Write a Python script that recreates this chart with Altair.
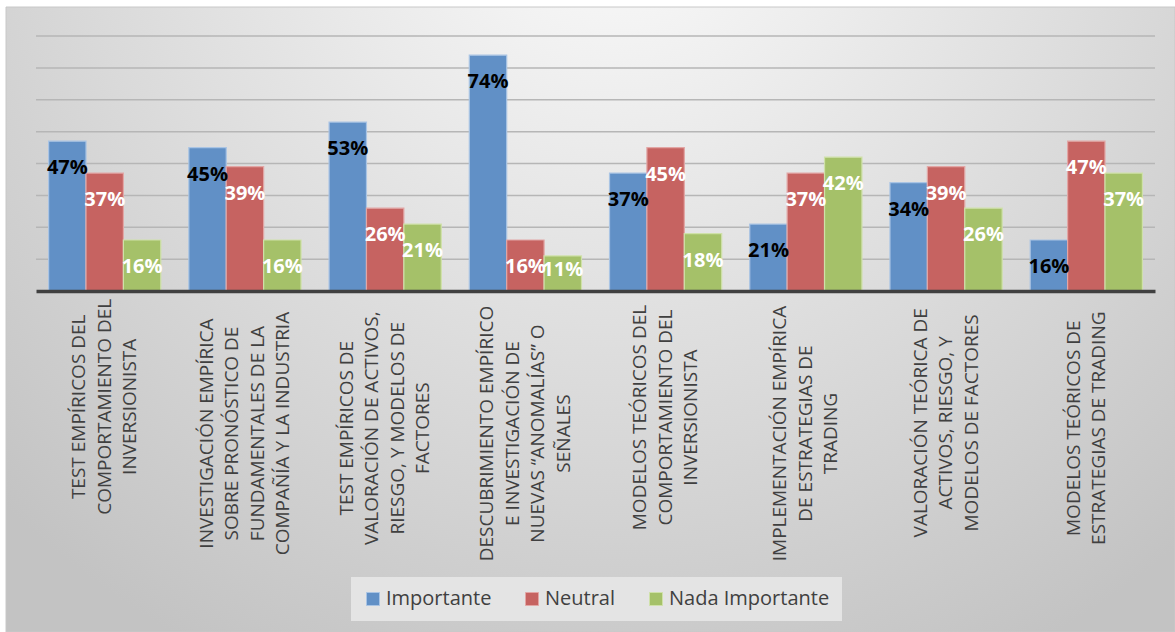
import altair as alt
import pandas as pd

categorias = [
    "TEST EMPÍRICOS DEL|COMPORTAMIENTO DEL|INVERSIONISTA",
    "INVESTIGACIÓN EMPÍRICA|SOBRE PRONÓSTICO DE|FUNDAMENTALES DE LA|COMPAÑÍA Y LA INDUSTRIA",
    "TEST EMPÍRICOS DE|VALORACIÓN DE ACTIVOS,|RIESGO, Y MODELOS DE|FACTORES",
    "DESCUBRIMIENTO EMPÍRICO|E INVESTIGACIÓN DE|NUEVAS “ANOMALÍAS” O|SEÑALES",
    "MODELOS TEÓRICOS DEL|COMPORTAMIENTO DEL|INVERSIONISTA",
    "IMPLEMENTACIÓN EMPÍRICA|DE  ESTRATEGIAS DE|TRADING",
    "VALORACIÓN TEÓRICA DE|ACTIVOS,  RIESGO, Y|MODELOS DE FACTORES",
    "MODELOS TEÓRICOS DE|ESTRATEGIAS DE TRADING",
]
series = ["Importante", "Neutral", "Nada Importante"]
importante = [0.47, 0.45, 0.53, 0.74, 0.37, 0.21, 0.34, 0.16]
neutral = [0.37, 0.39, 0.26, 0.16, 0.45, 0.37, 0.39, 0.47]
nada_importante = [0.16, 0.16, 0.21, 0.11, 0.18, 0.42, 0.26, 0.37]
colores = ["#6190c6", "#c66361", "#a5c169"]
bordes = ["#a9c4e4", "#e2a6a5", "#cfe1a9"]
grid_vals = [0.1, 0.2, 0.3, 0.4, 0.5, 0.6, 0.7, 0.8]

rows = []
for i, c in enumerate(categorias):
    for s, vals in zip(series, [importante, neutral, nada_importante]):
        rows.append({"categoria": c, "serie": s, "valor": vals[i]})
df = pd.DataFrame(rows)
df_grid = pd.DataFrame({"g": grid_vals})

W, H = 1119, 255
LH = 25.5

# label blocks are top-aligned under the axis, lines centred within the block
lines_expr = "split(datum.value, '|')"
maxlen_expr = (
    f"max(length({lines_expr}[0]), length({lines_expr}[1] || ''), "
    f"length({lines_expr}[2] || ''), length({lines_expr}[3] || ''))"
)

x_enc = alt.X(
    "categoria:N", sort=categorias,
    scale=alt.Scale(paddingInner=0.2, paddingOuter=0.09),
    axis=alt.Axis(
        title=None, labelExpr="split(datum.label, '|')", labelAngle=270,
        labelAlign="center", labelBaseline="middle",
        labelPadding={"condition": {"test": "false", "value": 127}, "expr": f"19 + 5.35 * {maxlen_expr}"},
        labelOffset={
            "condition": [
                {"test": "length(split(datum.value, '|')) == 4", "value": -1.5 * LH},
                {"test": "length(split(datum.value, '|')) == 2", "value": -0.5 * LH},
            ],
            "value": -1.0 * LH,
        },
        ticks=False, tickSize=0, domainColor="#404040", domainWidth=3.5,
        labelFont="Open Sans", labelFontSize=19, labelColor="#404040",
        labelLineHeight=LH, labelLimit=0, grid=False, zindex=2,
    ),
)
xo_enc = alt.XOffset("serie:N", sort=series, scale=alt.Scale(paddingInner=0, paddingOuter=0))
y_scale = alt.Scale(domain=[0, 0.8], nice=False)

fondo = alt.Chart(pd.DataFrame({"k": [0]})).mark_rect(
    fill={
        "gradient": "radial", "x1": 0.52, "y1": 0.12, "r1": 0,
        "x2": 0.52, "y2": 0.12, "r2": 0.75,
        "stops": [{"offset": 0, "color": "#fdfdfd"}, {"offset": 1, "color": "#c3c3c3"}],
    },
    stroke="#c8c8c8", strokeWidth=1,
).encode(x=alt.value(-30), x2=alt.value(1139), y=alt.value(-29), y2=alt.value(596))

rejilla = alt.Chart(df_grid).mark_rule(color="#b6b6b6", strokeWidth=1.5).encode(
    y=alt.Y("g:Q", scale=y_scale, axis=None),
    x=alt.value(0), x2=alt.value(W),
)

barras = alt.Chart(df).mark_bar(strokeWidth=1.2).encode(
    x=x_enc,
    xOffset=xo_enc,
    y=alt.Y("valor:Q", scale=y_scale, axis=None),
    color=alt.Color(
        "serie:N", sort=series, scale=alt.Scale(domain=series, range=colores),
        legend=alt.Legend(
            title=None, orient="none", legendX=315, legendY=541, direction="horizontal",
            symbolType="square", symbolSize=169, symbolStrokeWidth=1, symbolStrokeColor="#eeeeee",
            symbolOpacity=1, labelFont="Open Sans", labelFontSize=20, labelColor="#404040",
            labelOffset=3, columnPadding=30, fillColor="#e4e4e4", padding=12, labelLimit=400,
        ),
    ),
    stroke=alt.Stroke("serie:N", sort=series, scale=alt.Scale(domain=series, range=bordes), legend=None),
)

textos = alt.Chart(df).transform_calculate(
    ypos="max(datum.valor - 0.085, 0.066)",
    etiqueta="round(datum.valor * 100) + '%'",
).mark_text(font="Open Sans", fontSize=20, fontWeight="bold", baseline="middle", align="center").encode(
    x=x_enc,
    xOffset=xo_enc,
    y=alt.Y("ypos:Q", scale=y_scale, axis=None),
    text="etiqueta:N",
    color=alt.condition("datum.serie == 'Importante'", alt.value("#000000"), alt.value("#ffffff")),
)

chart = alt.layer(fondo, rejilla, barras, textos).properties(
    width=W, height=H,
    autosize=alt.AutoSizeParams(type="none"),
    padding={"left": 36, "top": 36, "right": 20, "bottom": 341},
).configure_view(stroke="transparent").configure(background="white")

chart.save("out.html", embed_options={"renderer": "svg", "actions": False})
